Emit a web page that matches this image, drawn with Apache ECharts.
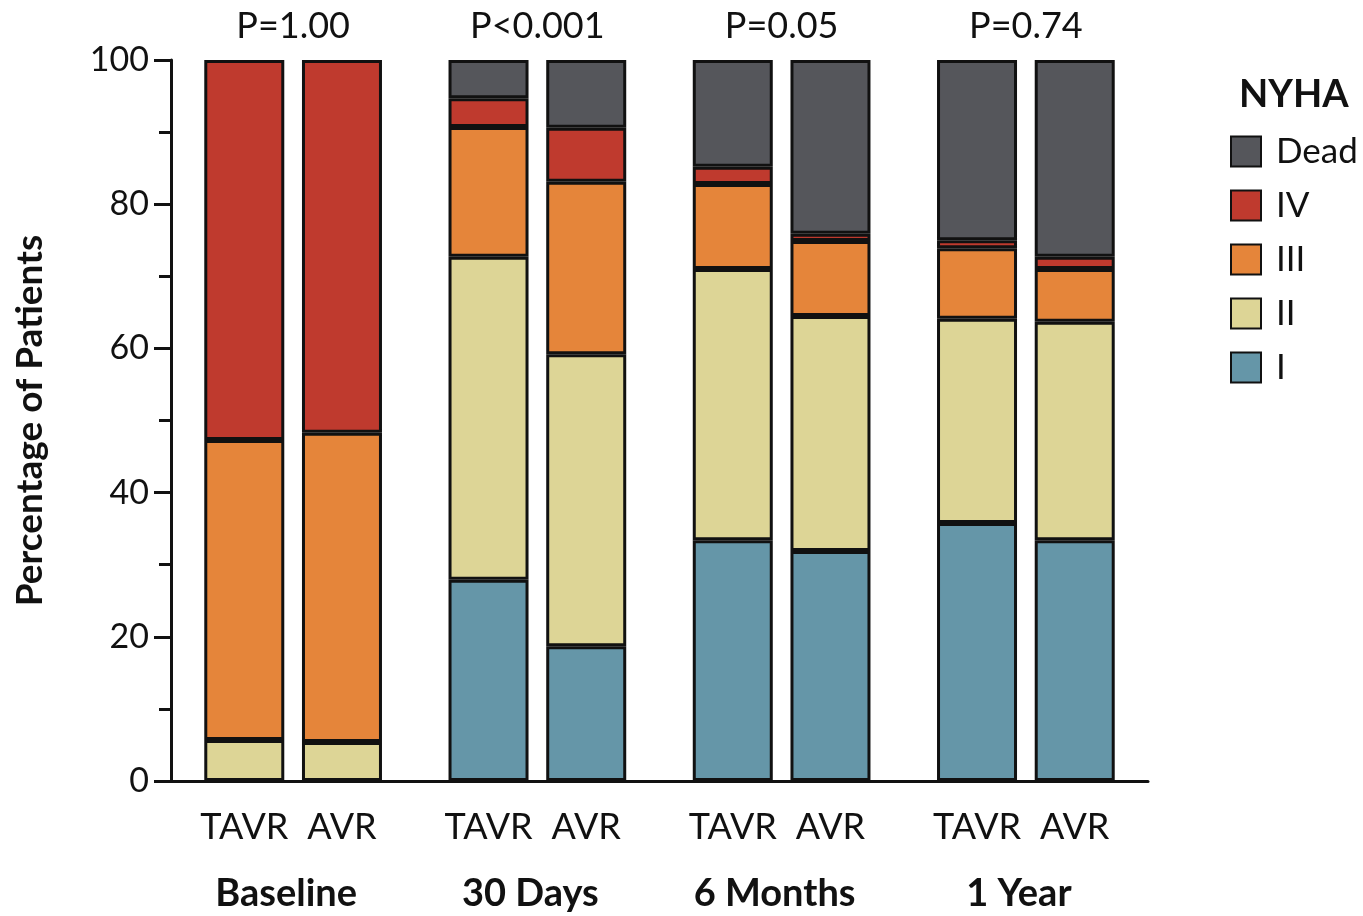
<!DOCTYPE html>
<html>
<head>
<meta charset="utf-8">
<script src="https://cdn.jsdelivr.net/npm/echarts@6/dist/echarts.min.js"></script>
<style>
  html, body { margin: 0; padding: 0; background: #fff; }
  #chart { width: 1363px; height: 916px; }
</style>
</head>
<body>
<div id="chart"></div>
<script>
// slots on a 20-slot category axis; empty slots give the gaps between time points
const slotCount = 20
const barSlot = [1, 3, 6, 8, 11, 13, 16, 18]
const barNames = ['TAVR', 'AVR', 'TAVR', 'AVR', 'TAVR', 'AVR', 'TAVR', 'AVR']
const groupSlot = [2, 7, 12, 17]
const groups = ['Baseline', '30 Days', '6 Months', '1 Year']
const pValues = ['P=1.00', 'P<0.001', 'P=0.05', 'P=0.74']

// percentages per NYHA class, one value per bar (null = class not present)
const classI = [null, null, 27.9, 18.7, 33.4, 31.9, 35.8, 33.4]
const classII = [5.7, 5.4, 44.8, 40.5, 37.6, 32.6, 28.3, 30.3]
const classIII = [41.6, 42.9, 18.0, 23.9, 11.8, 10.4, 9.8, 7.3]
const classIV = [52.7, 51.7, 4.0, 7.5, 2.4, 1.0, 1.1, 1.7]
const dead = [null, null, 5.3, 9.4, 14.8, 24.1, 25.0, 27.3]

const font = 'Lato'
const ink = '#111'

const slots = []
for (let i = 0; i < slotCount; i++) slots.push(String(i))

function spread(values) {
  const out = slots.map(() => '-')
  barSlot.forEach((s, i) => { out[s] = values[i] == null ? '-' : values[i] })
  return out
}

function labelAt(list, where) {
  return function (value, index) {
    const k = where.indexOf(index)
    return k >= 0 ? list[k] : ''
  }
}

function makeSeries(name, values, color) {
  return {
    name: name,
    type: 'bar',
    stack: 'nyha',
    barWidth: 80,
    xAxisIndex: 0,
    itemStyle: { color: color, borderColor: ink, borderWidth: 3 },
    data: spread(values)
  }
}

const chart = echarts.init(document.getElementById('chart'))

const option = {
  animation: false,
  textStyle: { fontFamily: font, color: ink },
  grid: { left: 171, right: 215, top: 60, bottom: 135 },
  title: {
    text: 'NYHA',
    left: 1234,
    top: 71,
    textStyle: { fontFamily: font, fontWeight: 'bold', fontSize: 38, color: ink }
  },
  legend: {
    orient: 'vertical',
    left: 1225,
    top: 129,
    icon: 'rect',
    itemWidth: 30,
    itemHeight: 30,
    itemGap: 19,
    data: ['Dead', 'IV', 'III', 'II', 'I'],
    textStyle: { fontFamily: font, fontSize: 35, color: ink, padding: [0, 0, 0, 10] }
  },
  xAxis: [
    {
      type: 'category',
      data: slots,
      position: 'bottom',
      axisLine: { lineStyle: { color: ink, width: 3 } },
      axisTick: {
        alignWithLabel: true,
        interval: (i) => barSlot.indexOf(i) >= 0,
        length: 19,
        lineStyle: { color: ink, width: 3 }
      },
      axisLabel: {
        interval: 0,
        formatter: labelAt(barNames, barSlot),
        margin: 28,
        fontFamily: font,
        fontSize: 36,
        color: ink
      }
    },
    {
      type: 'category',
      data: slots,
      position: 'bottom',
      offset: 66,
      axisLine: { show: false },
      axisTick: { show: false },
      axisLabel: {
        interval: 0,
        formatter: labelAt(groups, groupSlot),
        margin: 28,
        padding: [0, 14, 0, 0],
        fontFamily: font,
        fontWeight: 'bold',
        fontSize: 38,
        color: ink
      }
    },
    {
      type: 'category',
      data: slots,
      position: 'top',
      axisLine: { show: false },
      axisTick: { show: false },
      axisLabel: {
        interval: 0,
        formatter: labelAt(pValues, groupSlot),
        margin: 16,
        fontFamily: font,
        fontSize: 36,
        color: ink
      }
    }
  ],
  yAxis: {
    type: 'value',
    min: 0,
    max: 100,
    interval: 20,
    name: 'Percentage of Patients',
    nameLocation: 'middle',
    nameGap: 122,
    nameTextStyle: { fontFamily: font, fontWeight: 'bold', fontSize: 37, color: ink },
    splitLine: { show: false },
    axisLine: { show: true, lineStyle: { color: ink, width: 3 } },
    axisTick: { show: true, length: 17, lineStyle: { color: ink, width: 3 } },
    minorTick: { show: true, splitNumber: 2, length: 12, lineStyle: { color: ink, width: 3 } },
    axisLabel: { margin: 22, fontFamily: font, fontSize: 34, color: ink }
  },
  series: [
    makeSeries('I', classI, '#6596a8'),
    makeSeries('II', classII, '#ddd596'),
    makeSeries('III', classIII, '#e5853a'),
    makeSeries('IV', classIV, '#bf3a2e'),
    makeSeries('Dead', dead, '#55565b')
  ]
}

chart.setOption(option)
</script>
</body>
</html>
